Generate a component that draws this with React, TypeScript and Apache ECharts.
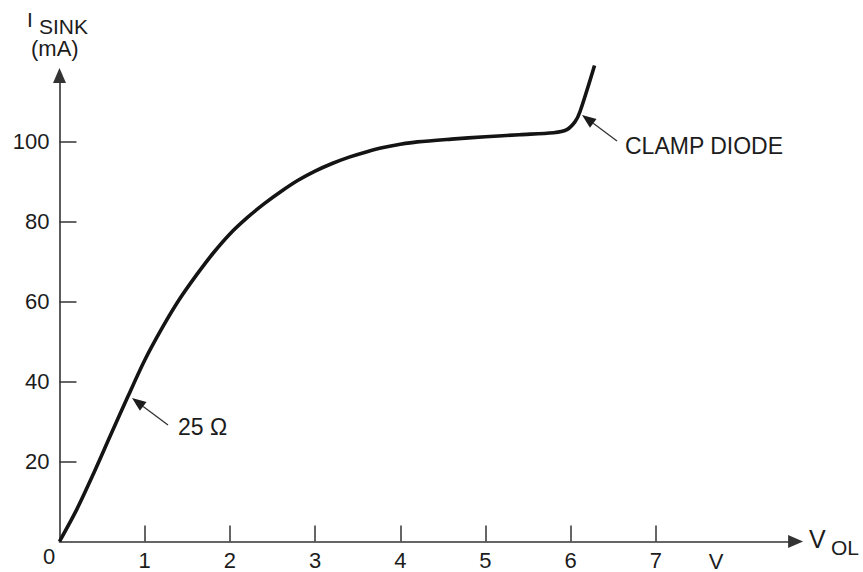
import React, { useEffect, useRef } from "react";
import * as echarts from "echarts";

// V_OL (volts) and I_SINK (mA)
const vol = [0, 0.2, 0.4, 0.6, 0.8, 1.0, 1.2, 1.4, 1.6, 1.8, 2.0, 2.2, 2.4, 2.6, 2.8, 3.0, 3.2, 3.4, 3.6, 3.8, 4.0, 4.2, 4.6, 5.0, 5.4, 5.8, 5.95, 6.05, 6.11, 6.28];
const isink = [0, 7.9, 17.0, 26.6, 36.1, 45.3, 53.2, 60.3, 66.4, 72.0, 76.9, 80.9, 84.4, 87.5, 90.3, 92.6, 94.5, 96.1, 97.4, 98.5, 99.3, 99.9, 100.6, 101.2, 101.7, 102.2, 102.9, 104.9, 107.5, 119.0];

const xTicks = [1, 2, 3, 4, 5, 6, 7];
const yTicks = [20, 40, 60, 80, 100];

const FONT = "Liberation Sans, Arial, Helvetica, sans-serif";
const INK = "#1c1c1c";

export default function App() {
  const ref = useRef<HTMLDivElement | null>(null);
  useEffect(() => {
    if (!ref.current) return;
    const chart = echarts.init(ref.current, undefined, { renderer: "svg" });
    const data = vol.map((v, i) => [v, isink[i]]);
    const arrow = (tip: number[], tail: number[]) => {
      const dx = tip[0] - tail[0];
      const dy = tip[1] - tail[1];
      const len = Math.hypot(dx, dy);
      const ux = dx / len;
      const uy = dy / len;
      const hl = 14;
      const hw = 5.5;
      const bx = tip[0] - ux * hl;
      const by = tip[1] - uy * hl;
      return [
        {
          type: "line",
          shape: { x1: tail[0], y1: tail[1], x2: bx, y2: by },
          style: { stroke: "#333", lineWidth: 1.3 },
        },
        {
          type: "polygon",
          shape: {
            points: [
              [tip[0], tip[1]],
              [bx - uy * hw, by + ux * hw],
              [bx + uy * hw, by - ux * hw],
            ],
          },
          style: { fill: INK },
        },
      ];
    };
    const txt = (text: string, x: number, y: number, size: number, align = "left") => ({
      type: "text",
      x,
      y,
      style: {
        text,
        fill: INK,
        font: `${size}px ${FONT}`,
        align,
        verticalAlign: "middle",
      },
    });
    chart.setOption({
      animation: false,
      backgroundColor: "#ffffff",
      grid: { left: 59.5, right: 67.4, top: 75.5, bottom: 30.5, containLabel: false },
      xAxis: {
        type: "value",
        min: 0,
        max: 8.64,
        splitLine: { show: false },
        axisLine: {
          show: true,
          onZero: false,
          symbol: ["none", "triangle"],
          symbolSize: [13, 15],
          lineStyle: { color: "#333", width: 1.6 },
        },
        axisTick: {
          show: true,
          inside: true,
          length: 16,
          customValues: xTicks,
          lineStyle: { color: "#333", width: 1.5 },
        },
        axisLabel: {
          show: true,
          customValues: xTicks,
          margin: 8,
          color: INK,
          fontSize: 22,
          fontFamily: FONT,
        },
      },
      yAxis: {
        type: "value",
        min: 0,
        max: 116.5,
        splitLine: { show: false },
        axisLine: {
          show: true,
          onZero: false,
          symbol: ["none", "triangle"],
          symbolSize: [13, 15],
          lineStyle: { color: "#333", width: 1.6 },
        },
        axisTick: {
          show: true,
          inside: true,
          length: 17,
          customValues: yTicks,
          lineStyle: { color: "#333", width: 1.5 },
        },
        axisLabel: {
          show: true,
          customValues: yTicks,
          margin: 10,
          color: INK,
          fontSize: 22,
          fontFamily: FONT,
        },
      },
      series: [
        {
          type: "line",
          data,
          smooth: 0.3,
          showSymbol: false,
          clip: false,
          lineStyle: { color: "#141414", width: 3.6 },
        },
      ],
      graphic: [
        ...arrow([582, 115], [617, 141]),
        ...arrow([132, 398], [168, 425]),
        txt("CLAMP DIODE", 625, 146, 23),
        txt("25 Ω", 178, 427, 23),
        txt("0", 49, 556, 22, "center"),
        txt("V", 716, 561, 22, "center"),
        txt("V", 809, 539, 25),
        txt("OL", 831, 547, 21),
        txt("I", 27, 19, 21),
        txt("SINK", 39, 26, 21),
        txt("(mA)", 31, 48, 22),
      ],
    });
    return () => chart.dispose();
  }, []);
  return (
    <div
      ref={ref}
      style={{ position: "fixed", left: 0, top: 0, width: 863, height: 572, background: "#fff" }}
    />
  );
}
